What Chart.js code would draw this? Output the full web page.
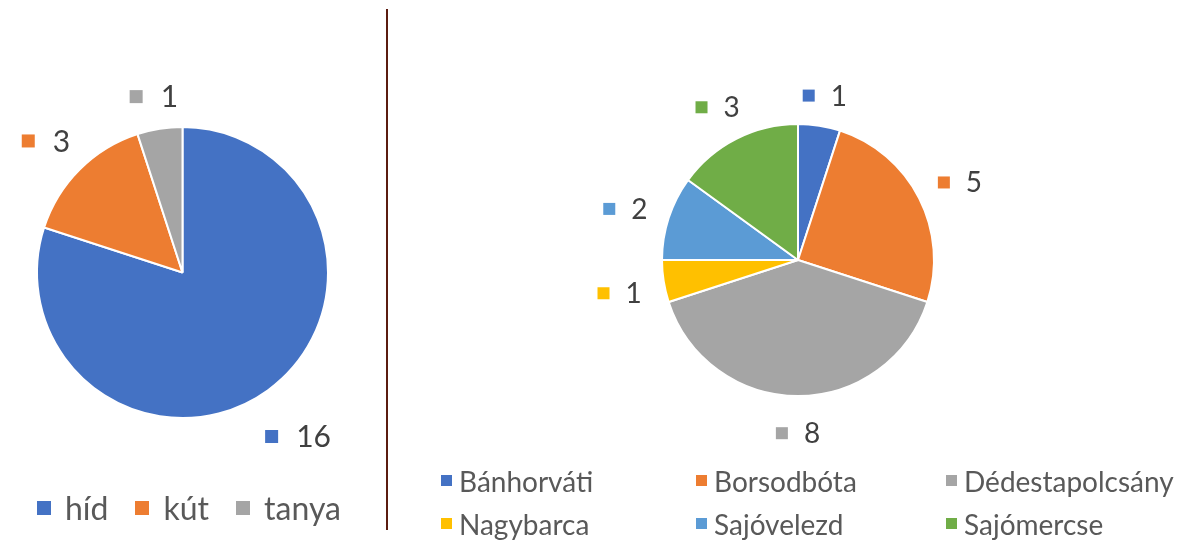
<!DOCTYPE html>
<html>
<head>
<meta charset="utf-8">
<script src="https://cdn.jsdelivr.net/npm/chart.js@4.4.1/dist/chart.umd.min.js"></script>
<style>
  html, body { margin: 0; padding: 0; background: #fff; }
  #page { position: relative; width: 1177px; height: 551px; overflow: hidden; font-family: Lato, "Noto Sans", sans-serif; }
  canvas { position: absolute; top: 0; }
  #sep { position: absolute; left: 386px; top: 9px; width: 2px; height: 521px; background: #5b1c10; }
  .legend { position: absolute; color: #595959; }
  .legend .item { display: flex; align-items: center; white-space: nowrap; }
  .legend .box { display: inline-block; flex: none; }
  #legendLeft { left: 37px; top: 488px; display: flex; font-size: 32px; }
  #legendLeft .item { margin-right: 27px; }
  #legendLeft .box { width: 14px; height: 14px; margin-right: 14px; }
  #legendRight { left: 441px; top: 459px; display: grid; grid-template-columns: 255px 250px 250px; grid-auto-rows: 43px; font-size: 28px; }
  #legendRight .box { width: 11px; height: 11px; margin-right: 7px; }
</style>
</head>
<body>
<div id="page">
  <canvas id="chartLeft" width="387" height="551" style="left:0"></canvas>
  <canvas id="chartRight" width="787" height="551" style="left:390px"></canvas>
  <div id="sep"></div>
  <div class="legend" id="legendLeft"></div>
  <div class="legend" id="legendRight"></div>
</div>
<script>
// bal oldali kör: objektum típusok
const typeLabels = ['híd', 'kút', 'tanya'];
const typeValues = [16, 3, 1];
const typeColors = ['#4472C4', '#ED7D31', '#A5A5A5'];

// jobb oldali kör: települések
const villageLabels = ['Bánhorváti', 'Borsodbóta', 'Dédestapolcsány', 'Nagybarca', 'Sajóvelezd', 'Sajómercse'];
const villageValues = [1, 5, 8, 1, 2, 3];
const villageColors = ['#4472C4', '#ED7D31', '#A5A5A5', '#FFC000', '#5B9BD5', '#70AD47'];

// értékcímkék a szeletek mellé: színes négyzet + szám
const outsideLabels = {
    id: 'outsideLabels',
    afterDatasetsDraw(chart, args, opts) {
        const ctx = chart.ctx;
        const ds = chart.data.datasets[0];
        const arcs = chart.getDatasetMeta(0).data;
        ctx.save();
        ctx.font = opts.fontSize + 'px Lato, "Noto Sans", sans-serif';
        ctx.textBaseline = 'middle';
        arcs.forEach(function(arc, i) {
            const p = arc.getProps(['x', 'y', 'startAngle', 'endAngle', 'outerRadius'], true);
            const mid = (p.startAngle + p.endAngle) / 2;
            const ux = Math.cos(mid), uy = Math.sin(mid);
            const text = String(ds.data[i]);
            const tw = ctx.measureText(text).width;
            const w = opts.box + opts.gap + tw;
            const hw = w / 2, hh = opts.fontSize * 0.4;
            const dist = p.outerRadius + opts.offset + Math.abs(ux) * hw + Math.abs(uy) * hh;
            const cx = p.x + ux * dist;
            const cy = p.y + uy * dist + opts.shift;
            const left = cx - hw;
            ctx.fillStyle = ds.backgroundColor[i];
            ctx.fillRect(left, cy - opts.box / 2, opts.box, opts.box);
            ctx.fillStyle = '#404040';
            ctx.textAlign = 'left';
            ctx.fillText(text, left + opts.box + opts.gap, cy + 1);
        });
        ctx.restore();
    }
};

function makePie(id, labels, values, colors, padding, labelOpts) {
    return new Chart(document.getElementById(id), {
        type: 'pie',
        data: {
            labels: labels,
            datasets: [{
                data: values,
                backgroundColor: colors,
                borderColor: '#ffffff',
                borderWidth: 2
            }]
        },
        options: {
            responsive: false,
            animation: false,
            layout: { padding: padding },
            plugins: {
                legend: { display: false },
                tooltip: { enabled: false },
                outsideLabels: labelOpts
            }
        },
        plugins: [outsideLabels]
    });
}

makePie('chartLeft', typeLabels, typeValues, typeColors,
    { left: 36, top: 126, right: 58, bottom: 132 },
    { fontSize: 30, box: 13, gap: 18, offset: 22, shift: 5 });

makePie('chartRight', villageLabels, villageValues, villageColors,
    { left: 271, top: 123, right: 242, bottom: 154 },
    { fontSize: 28, box: 12, gap: 16, offset: 21, shift: 5 });

// jelmagyarázatok HTML-ben
function buildLegend(elId, labels, colors) {
    const el = document.getElementById(elId);
    labels.forEach(function(lbl, i) {
        const item = document.createElement('div');
        item.className = 'item';
        const box = document.createElement('span');
        box.className = 'box';
        box.style.background = colors[i];
        item.appendChild(box);
        item.appendChild(document.createTextNode(lbl));
        el.appendChild(item);
    });
}
buildLegend('legendLeft', typeLabels, typeColors);
buildLegend('legendRight', villageLabels, villageColors);
</script>
</body>
</html>
